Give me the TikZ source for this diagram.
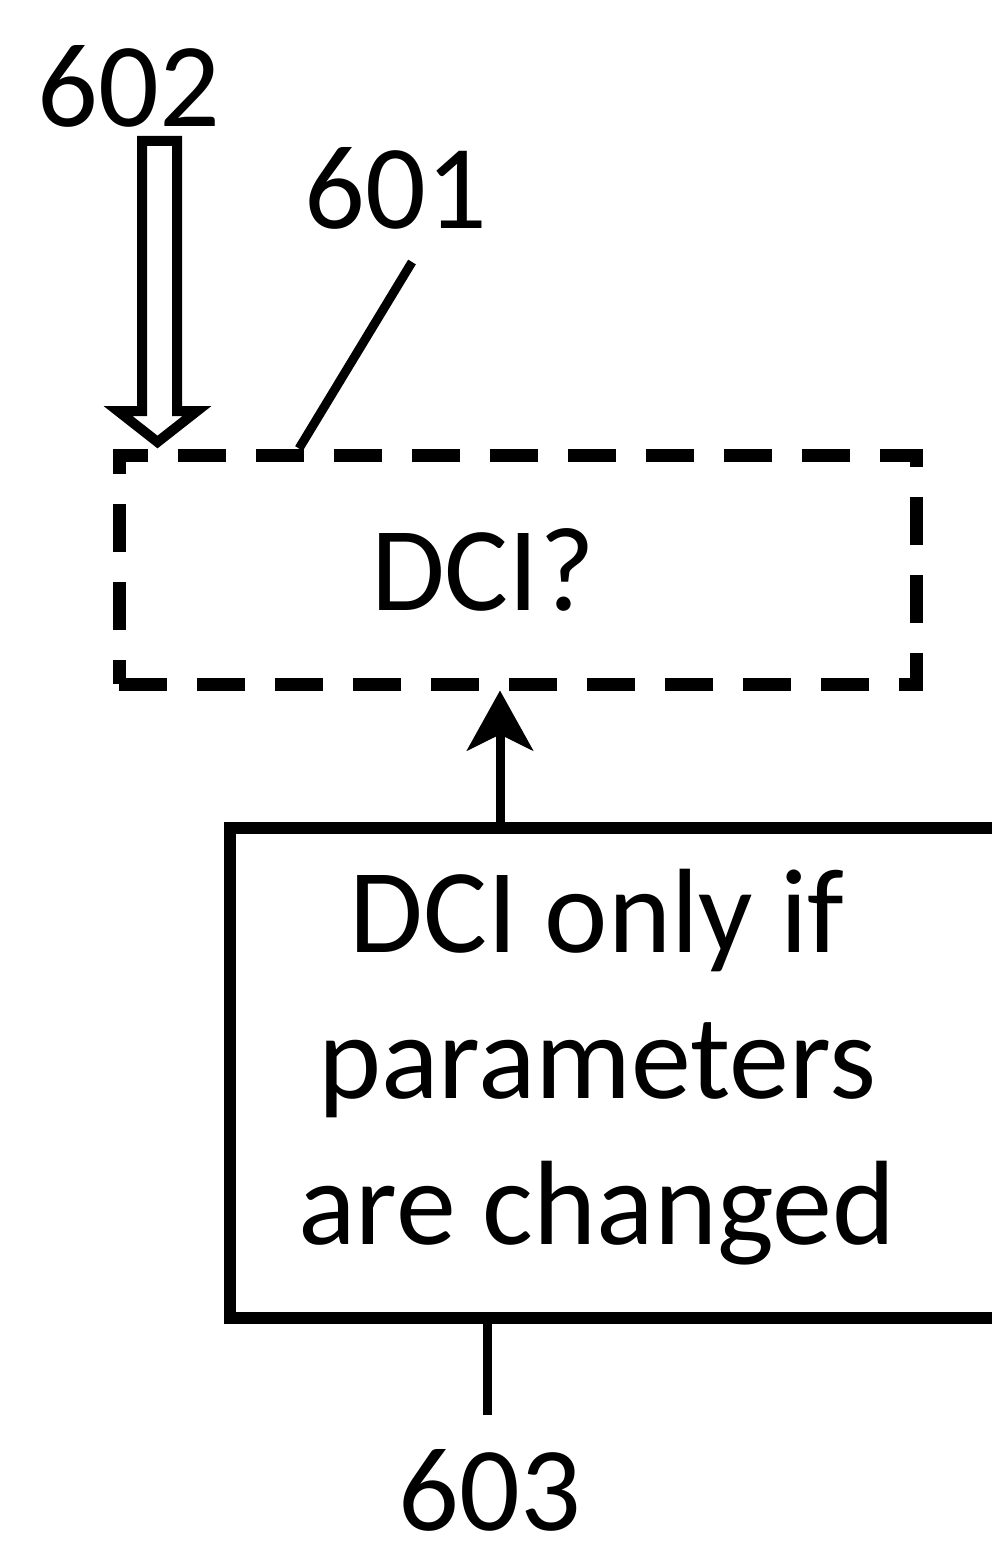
\documentclass[tikz,border=0pt]{standalone}
\usepackage{fontspec}
\setmainfont{Carlito}
\usetikzlibrary{arrows.meta}
\begin{document}
\begin{tikzpicture}[x=1pt,y=-1pt,
  lbl/.style={font=\fontsize{120}{146}\selectfont, inner sep=0pt, anchor=base},
  dashbox/.style={draw, line width=13pt, dash pattern=on 48pt off 30pt, minimum width=797pt, minimum height=229pt, inner sep=0pt},
  solidbox/.style={draw, line width=12pt, minimum width=780pt, minimum height=490pt, inner sep=0pt},
  lead/.style={line width=9pt},
  hollowarrow/.style={draw, line width=10pt, miter limit=20, line join=miter}]
\useasboundingbox (0,0) rectangle (992,1541);
% boxes
\node[dashbox] (dcibox) at (517.5,569.5) {};
\node[lbl] (dcitext) at (483,610) {DCI?};
\node[solidbox] (lowbox) at (620,1073) {};
\node[lbl, align=center] (lowtext) at (597,1244) {DCI only if\\parameters\\are changed};
% labels
\node[lbl] (n602) at (129,127) {602};
\node[lbl] (n601) at (396,229) {601};
\node[lbl] (n603) at (490,1530) {603};
% 602 hollow arrow
\coordinate (tip602) at (157.5,442);
\draw[hollowarrow] (142,141) -- (177,141) -- (177,411) -- (197,411) -- (tip602) -- (118,411) -- (142,411) -- cycle;
% 601 leader
\coordinate (l601a) at (412,262);
\coordinate (l601b) at (299,0);
\draw[lead] (l601a) -- (l601b |- dcibox.north);
% arrow from lower box to dci box
\coordinate (ax) at (500,0);
\draw[lead, -{Stealth[length=60pt,width=66pt,inset=16pt]}] (ax |- lowbox.north) -- (ax |- dcibox.south);
% 603 leader
\coordinate (l603) at (487,1415);
\draw[lead] (l603 |- lowbox.south) -- (l603);
\end{tikzpicture}
\end{document}
